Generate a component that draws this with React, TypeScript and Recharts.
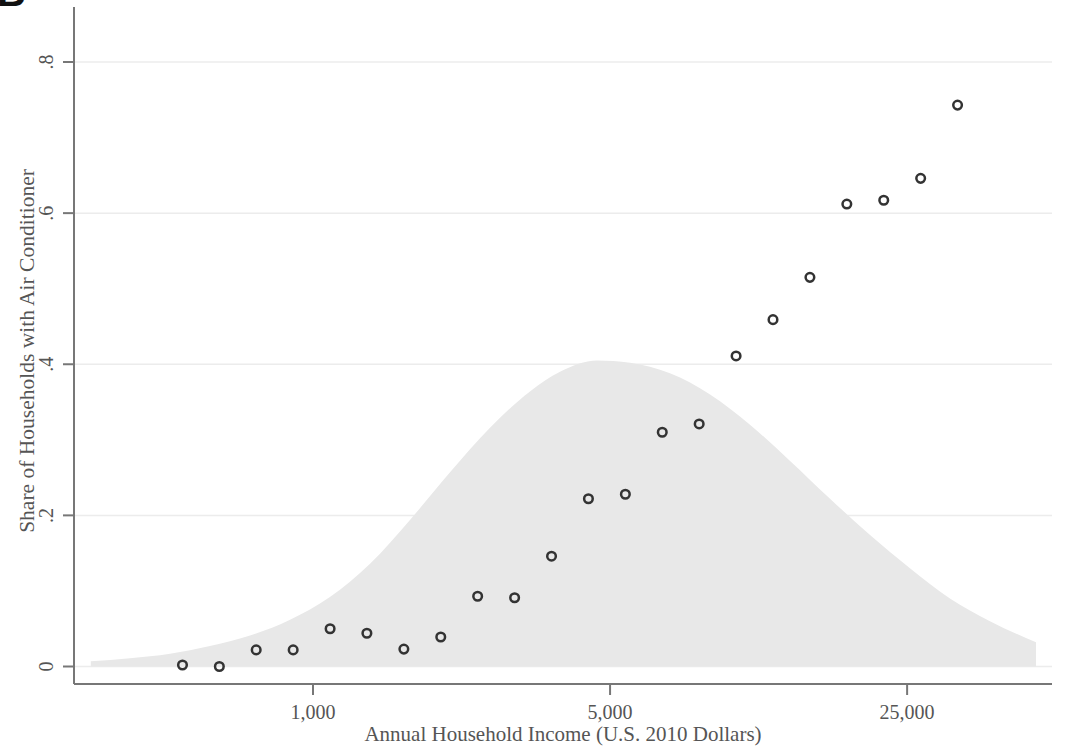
import React from 'react';
import { ComposedChart, Area, Scatter, XAxis, YAxis, CartesianGrid, Label } from 'recharts';

// binned points: mean income of each log-income bin and share with AC
const binIncome = [493, 602, 735, 898, 1097, 1339, 1636, 1998, 2440, 2981, 3641, 4447, 5432, 6634, 8103, 9897, 12088, 14765, 18034, 22026, 26903, 32860];
const acShare = [0.002, 0.0, 0.022, 0.022, 0.050, 0.044, 0.023, 0.039, 0.093, 0.091, 0.146, 0.222, 0.228, 0.310, 0.321, 0.411, 0.459, 0.515, 0.612, 0.617, 0.646, 0.743];

// income density (gray backdrop)
const densityIncome = [300, 371, 461, 572, 711, 883, 1096, 1362, 1691, 2101, 2609, 3240, 3813, 4658, 5570, 6918, 8595, 10671, 13259, 16466, 20450, 25390, 31530, 39160, 50260];
const densityValue = [0.007, 0.011, 0.017, 0.027, 0.041, 0.062, 0.092, 0.136, 0.194, 0.257, 0.316, 0.364, 0.390, 0.405, 0.402, 0.388, 0.360, 0.320, 0.272, 0.222, 0.174, 0.130, 0.090, 0.060, 0.032];

const xTicks = [1000, 5000, 25000];
const yTicks = [0, 0.2, 0.4, 0.6, 0.8];

const points = binIncome.map((income, i) => ({ income, share: acShare[i] }));
const density = densityIncome.map((income, i) => ({ income, dens: densityValue[i] }));

const FONT = '"Liberation Serif", "DejaVu Serif", serif';
const TEXT = '#555';
const AXIS = '#777';

const XTick = (props: any) => {
  const { x, y, payload } = props;
  return (
    <text x={x} y={y + 24} textAnchor="middle" fontSize={20} fontFamily={FONT} fill={TEXT}>
      {Number(payload.value).toLocaleString('en-US')}
    </text>
  );
};

const fmtY = (v: number) => (v === 0 ? '0' : String(v).replace(/^0/, ''));

const YTick = (props: any) => {
  const { x, y, payload } = props;
  const bx = x - 10;
  return (
    <text x={bx} y={y} transform={`rotate(-90, ${bx}, ${y})`} textAnchor="middle" fontSize={20} fontFamily={FONT} fill={TEXT}>
      {fmtY(payload.value)}
    </text>
  );
};

const Ring = (props: any) => {
  const { cx, cy } = props;
  return <circle cx={cx} cy={cy} r={4.3} fill="none" stroke="#333" strokeWidth={2.5} />;
};

const App: React.FC = () => {
  return (
    <div style={{ position: 'absolute', left: 0, top: 0, width: 1065, height: 749, background: '#fff', overflow: 'hidden' }}>
      <div style={{ position: 'absolute', left: -3, top: -28, fontFamily: '"Liberation Sans", sans-serif', fontWeight: 700, fontSize: 40, lineHeight: '40px', color: '#111' }}>
        B
      </div>
      <ComposedChart width={1065} height={749} margin={{ top: 7, right: 13, bottom: 5, left: 14 }}>
        <CartesianGrid vertical={false} horizontalValues={yTicks} stroke="#ececec" strokeWidth={1.5} />
        <XAxis
          dataKey="income"
          type="number"
          scale="log"
          domain={[273.9, 54810]}
          allowDataOverflow
          ticks={xTicks}
          height={60}
          tick={<XTick />}
          tickSize={11}
          tickMargin={0}
          axisLine={{ stroke: AXIS, strokeWidth: 2 }}
          tickLine={{ stroke: AXIS, strokeWidth: 2 }}
        >
          <Label
            content={() => (
              <text x={563} y={741} textAnchor="middle" fontSize={21} fontFamily={FONT} fill={TEXT}>
                Annual Household Income (U.S. 2010 Dollars)
              </text>
            )}
          />
        </XAxis>
        <YAxis
          type="number"
          domain={[-0.02316, 0.8728]}
          allowDataOverflow
          ticks={yTicks}
          width={60}
          tick={<YTick />}
          tickSize={11}
          tickMargin={0}
          axisLine={{ stroke: AXIS, strokeWidth: 2 }}
          tickLine={{ stroke: AXIS, strokeWidth: 2 }}
        >
          <Label
            content={() => (
              <text x={34} y={351} transform="rotate(-90, 34, 351)" textAnchor="middle" fontSize={21.5} fontFamily={FONT} fill={TEXT}>
                Share of Households with Air Conditioner
              </text>
            )}
          />
        </YAxis>
        <Area
          data={density}
          dataKey="dens"
          type="monotone"
          baseValue={0}
          fill="#e8e8e8"
          fillOpacity={1}
          stroke="none"
          isAnimationActive={false}
        />
        <Scatter data={points} dataKey="share" shape={<Ring />} isAnimationActive={false} />
      </ComposedChart>
    </div>
  );
};

export default App;
